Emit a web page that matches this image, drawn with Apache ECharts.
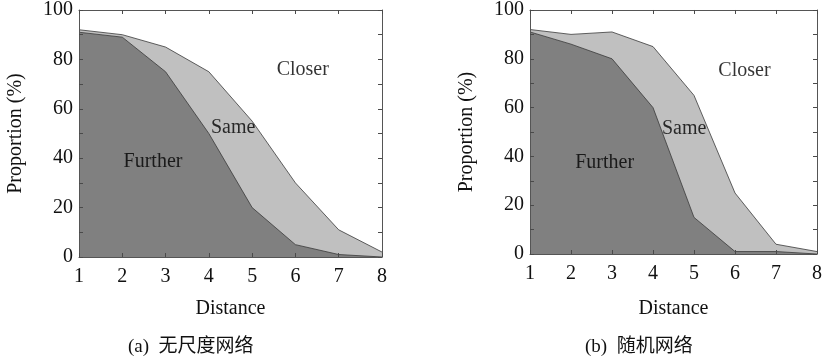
<!DOCTYPE html>
<html>
<head>
<meta charset="utf-8">
<script src="https://cdn.jsdelivr.net/npm/echarts@6/dist/echarts.min.js"></script>
<style>
html, body { margin: 0; padding: 0; background: #fff; }
#chart { width: 825px; height: 364px; }
</style>
</head>
<body>
<div id="chart"></div>
<script>
// distance values (x axis)
const distance = [1, 2, 3, 4, 5, 6, 7, 8];

// (a) scale-free network: lower boundary = Further, upper boundary = Further + Same
const furtherA = [91, 89, 75, 50, 20, 5, 1, 0];
const furtherSameA = [92, 90, 85, 75, 55, 30, 11, 2];

// (b) random network
const furtherB = [91, 86, 80, 60, 15, 1, 1, 0];
const furtherSameB = [92, 90, 91, 85, 65, 25, 4, 1];

const yTicks = [0, 20, 40, 60, 80, 100];
const regionNames = ['Closer', 'Same', 'Further'];
const captions = ['(a)  无尺度网络', '(b)  随机网络'];

const serif = "'Times New Roman', 'Liberation Serif', 'Noto Sans CJK SC', serif";
const lineCol = '#3a3a3a';

function pairs(xs, ys) {
    return xs.map((x, i) => [x, ys[i]]);
}

const grids = [
    { left: 79, right: 443, top: 10, bottom: 107 },
    { left: 530, right: 3, top: 9, bottom: 110 }
];
const nameGaps = [42, 45];

const tickStyle = { show: true, inside: true, length: 4, lineStyle: { color: '#4a4a4a', width: 1 } };
const boxLine = { show: true, onZero: false, lineStyle: { color: '#555', width: 1 } };

const xAxes = [];
const yAxes = [];
grids.forEach((g, i) => {
    // bottom axis with labels
    xAxes.push({
        type: 'value', gridIndex: i, position: 'bottom', min: 1, max: 8, interval: 1, z: 10,
        name: 'Distance', nameLocation: 'middle', nameGap: nameGaps[i],
        nameTextStyle: { fontFamily: serif, fontSize: 20, color: '#111' },
        axisLine: boxLine,
        axisTick: tickStyle,
        axisLabel: { fontFamily: serif, fontSize: 20, color: '#111', margin: 10 },
        splitLine: { show: false }
    });
    // top axis, ticks only
    xAxes.push({
        type: 'value', gridIndex: i, position: 'top', min: 1, max: 8, interval: 1, z: 10,
        axisLine: boxLine,
        axisTick: tickStyle,
        axisLabel: { show: false },
        splitLine: { show: false }
    });
    yAxes.push({
        type: 'value', gridIndex: i, position: 'left', min: 0, max: 100, interval: 10, z: 10,
        name: 'Proportion (%)', nameLocation: 'middle', nameGap: 53,
        nameTextStyle: { fontFamily: serif, fontSize: 20, color: '#111' },
        axisLine: boxLine,
        axisTick: tickStyle,
        axisLabel: {
            fontFamily: serif, fontSize: 20, color: '#111', margin: 6,
            formatter: (v) => yTicks.includes(v) ? String(v) : ''
        },
        splitLine: { show: false }
    });
    yAxes.push({
        type: 'value', gridIndex: i, position: 'right', min: 0, max: 100, interval: 10, z: 10,
        axisLine: boxLine,
        axisTick: tickStyle,
        axisLabel: { show: false },
        splitLine: { show: false }
    });
});

function areaSeries(gi, data, fill) {
    return {
        type: 'line',
        xAxisIndex: gi * 2,
        yAxisIndex: gi * 2,
        data: data,
        showSymbol: false,
        symbol: 'none',
        silent: true,
        lineStyle: { color: lineCol, width: 0.8 },
        areaStyle: { color: fill, opacity: 1, origin: 'start' }
    };
}

// text labels placed inside each region (data coordinates)
function labelSeries(gi, spots) {
    return {
        type: 'scatter',
        xAxisIndex: gi * 2,
        yAxisIndex: gi * 2,
        symbolSize: 1,
        itemStyle: { color: 'rgba(0,0,0,0)' },
        silent: true,
        z: 5,
        data: spots.map((s, k) => ({ value: s, name: regionNames[k] })),
        label: {
            show: true,
            position: 'inside',
            formatter: (p) => p.name,
            fontFamily: serif,
            fontSize: 20,
            color: '#000'
        }
    };
}

const option = {
    backgroundColor: '#fff',
    animation: false,
    grid: grids,
    xAxis: xAxes,
    yAxis: yAxes,
    series: [
        areaSeries(0, pairs(distance, furtherSameA), '#c0c0c0'),
        areaSeries(0, pairs(distance, furtherA), '#808080'),
        labelSeries(0, [[6.17, 76], [4.56, 52.5], [2.71, 38.5]]),
        areaSeries(1, pairs(distance, furtherSameB), '#c0c0c0'),
        areaSeries(1, pairs(distance, furtherB), '#808080'),
        labelSeries(1, [[6.23, 75], [4.76, 51.4], [2.82, 37.6]])
    ],
    graphic: [
        {
            type: 'text', left: 128, top: 338,
            style: { text: captions[0], fontFamily: serif, fontSize: 19, fill: '#111' }
        },
        {
            type: 'text', left: 585, top: 338,
            style: { text: captions[1], fontFamily: serif, fontSize: 19, fill: '#111' }
        }
    ]
};

const chart = echarts.init(document.getElementById('chart'));
chart.setOption(option);
</script>
</body>
</html>
